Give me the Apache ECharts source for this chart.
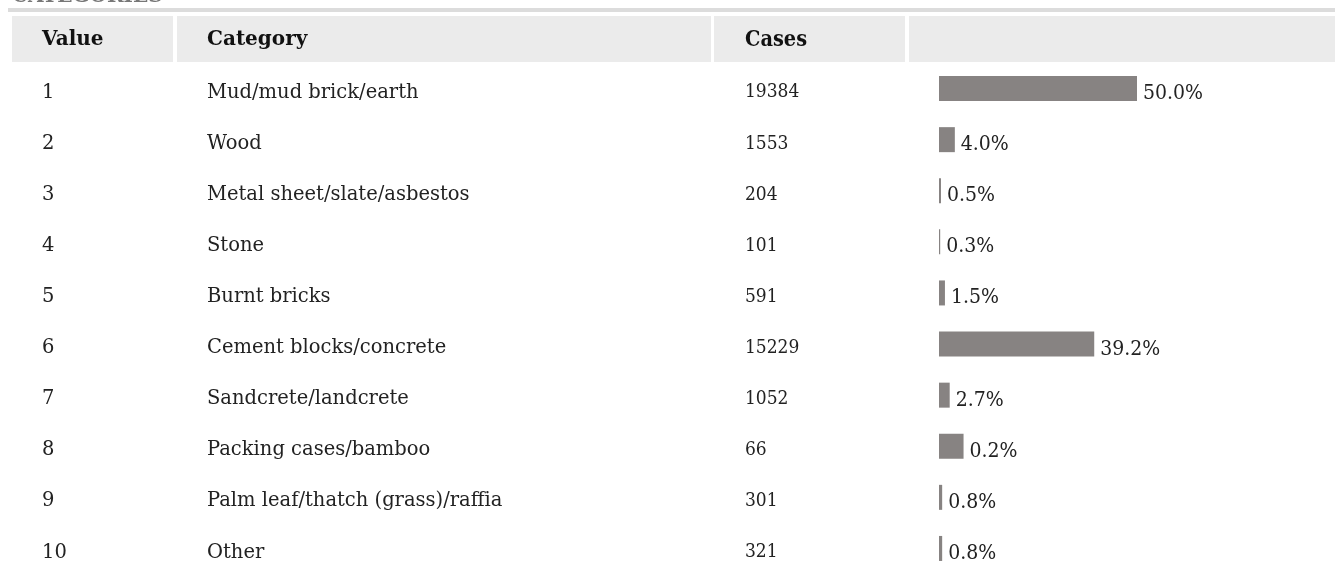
<!DOCTYPE html>
<html><head><meta charset="utf-8">
<script src="https://cdn.jsdelivr.net/npm/echarts@6/dist/echarts.min.js"></script>
<style>html,body{margin:0;padding:0;background:#fff;}#c{width:1335px;height:574px;}</style>
</head><body><div id="c"></div>
<script>
const title = "CATEGORIES";
const headers = ["Value", "Category", "Cases", ""];
const codes = ["1","2","3","4","5","6","7","8","9","10"];
const categories = ["Mud/mud brick/earth","Wood","Metal sheet/slate/asbestos","Stone","Burnt bricks","Cement blocks/concrete","Sandcrete/landcrete","Packing cases/bamboo","Palm leaf/thatch (grass)/raffia","Other"];
const cases = [19384,1553,204,101,591,15229,1052,66,301,321];
const shareLabels = ["50.0%","4.0%","0.5%","0.3%","1.5%","39.2%","2.7%","0.2%","0.8%","0.8%"];
// bar lengths as drawn in the picture (percent of a 0-100 scale)
const barPct = [50.0,4.0,0.5,0.3,1.5,39.2,2.7,6.2,0.8,0.8];

const chart = echarts.init(document.getElementById('c'), null, {renderer:'canvas'});
const serif = "'DejaVu Serif', serif";
const cond = "'DejaVu Serif Condensed', 'DejaVu Serif', serif";
const rows = codes.map((c,i)=>i);
const pad = [8,0,0,0];
chart.setOption({
  animation:false,
  grid:{left:939, top:63, width:402, height:513, containLabel:false},
  xAxis:{type:'value', min:0, max:100, show:false},
  yAxis:{type:'category', inverse:true, data:rows,
    axisLine:{show:false}, axisTick:{show:false}, splitLine:{show:false},
    axisLabel:{margin:0, align:'right',
      formatter:(v)=>{const i=+v;return '{v|'+codes[i]+'}{c|'+categories[i]+'}{n|'+cases[i]+'}';},
      rich:{
        v:{width:165, fontFamily:serif, fontSize:19.5, color:'#222', align:'left', padding:pad},
        c:{width:538, fontFamily:serif, fontSize:19.5, color:'#222', align:'left', padding:pad},
        n:{width:194, fontFamily:cond, fontSize:19, color:'#222', align:'left', padding:pad}
      }}},
  graphic:[
    {type:'text', x:12, y:7, style:{text:title, fontFamily:serif, fontWeight:'bold', fontSize:20, fill:'#777', verticalAlign:'bottom'}},
    {type:'rect', shape:{x:8,y:8,width:1327,height:4}, style:{fill:'#dcdcdc'}},
    {type:'rect', shape:{x:12,y:16,width:161,height:46}, style:{fill:'#ebebeb'}},
    {type:'rect', shape:{x:177,y:16,width:534,height:46}, style:{fill:'#ebebeb'}},
    {type:'rect', shape:{x:714,y:16,width:191,height:46}, style:{fill:'#ebebeb'}},
    {type:'rect', shape:{x:909,y:16,width:426,height:46}, style:{fill:'#ebebeb'}},
    {type:'text', x:42, y:40, style:{text:headers[0], fontFamily:serif, fontWeight:'bold', fontSize:20, fill:'#111', verticalAlign:'middle'}},
    {type:'text', x:207, y:40, style:{text:headers[1], fontFamily:serif, fontWeight:'bold', fontSize:20, fill:'#111', verticalAlign:'middle'}},
    {type:'text', x:745, y:40, style:{text:headers[2], fontFamily:cond, fontWeight:'bold', fontSize:21.5, fill:'#111', verticalAlign:'middle'}}
  ],
  series:[{type:'bar', data:barPct, barWidth:25, itemStyle:{color:'#878382'},
    label:{show:true, position:'right', distance:6, offset:[0,5],
      formatter:(p)=>shareLabels[p.dataIndex], fontFamily:cond, fontSize:21, color:'#222'}}]
});
</script></body></html>
